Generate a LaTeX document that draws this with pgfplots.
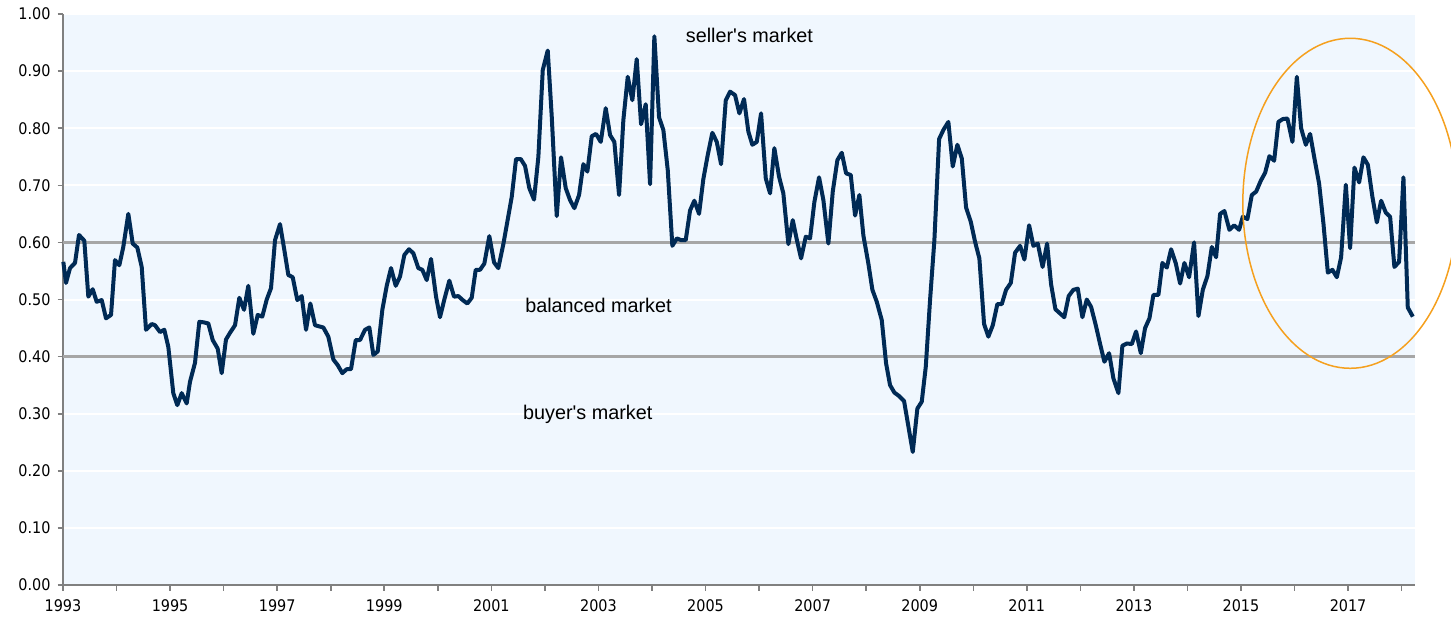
\documentclass[border=0pt]{standalone}
\usepackage{fontspec}
\setmainfont{Liberation Sans}
\newfontfamily\tickfont{DejaVu Sans Condensed}
\usepackage{pgfplots}
\pgfplotsset{compat=1.18}
\usepackage{pgfplotstable}
\definecolor{bgblue}{HTML}{F0F7FE}
\definecolor{navy}{HTML}{002A55}
\definecolor{refgray}{HTML}{A6A6A6}
\definecolor{axgray}{HTML}{808080}
\definecolor{ellorange}{HTML}{F5A01E}

\pgfplotstableread{
x y
1993.006 0.566
1993.056 0.529
1993.131 0.555
1993.224 0.564
1993.299 0.613
1993.398 0.603
1993.473 0.505
1993.555 0.518
1993.629 0.496
1993.723 0.499
1993.803 0.467
1993.897 0.473
1993.971 0.569
1994.052 0.560
1994.126 0.592
1994.220 0.650
1994.302 0.598
1994.388 0.591
1994.470 0.557
1994.550 0.447
1994.657 0.457
1994.718 0.455
1994.812 0.443
1994.892 0.447
1994.967 0.417
1995.060 0.336
1995.135 0.315
1995.217 0.336
1995.310 0.318
1995.372 0.356
1995.465 0.389
1995.546 0.461
1995.630 0.460
1995.714 0.458
1995.796 0.429
1995.889 0.414
1995.964 0.371
1996.044 0.430
1996.128 0.443
1996.213 0.455
1996.293 0.503
1996.381 0.482
1996.461 0.524
1996.554 0.440
1996.637 0.473
1996.722 0.470
1996.805 0.500
1996.885 0.520
1996.960 0.604
1997.053 0.632
1997.133 0.587
1997.208 0.543
1997.290 0.539
1997.376 0.499
1997.458 0.506
1997.539 0.447
1997.619 0.493
1997.707 0.455
1997.781 0.453
1997.862 0.451
1997.955 0.435
1998.049 0.395
1998.131 0.385
1998.217 0.371
1998.299 0.378
1998.379 0.378
1998.467 0.429
1998.547 0.429
1998.641 0.447
1998.721 0.451
1998.796 0.403
1998.878 0.409
1998.964 0.482
1999.046 0.524
1999.126 0.555
1999.214 0.524
1999.294 0.540
1999.375 0.578
1999.462 0.588
1999.543 0.581
1999.636 0.555
1999.711 0.552
1999.793 0.534
1999.873 0.571
1999.967 0.505
2000.041 0.469
2000.122 0.500
2000.215 0.533
2000.303 0.505
2000.383 0.506
2000.465 0.499
2000.551 0.493
2000.633 0.503
2000.708 0.552
2000.789 0.552
2000.869 0.563
2000.962 0.611
2001.050 0.565
2001.130 0.555
2001.224 0.597
2001.298 0.636
2001.381 0.680
2001.461 0.746
2001.549 0.746
2001.629 0.734
2001.709 0.695
2001.797 0.675
2001.878 0.750
2001.960 0.902
2002.053 0.936
2002.128 0.820
2002.221 0.646
2002.301 0.749
2002.389 0.695
2002.470 0.674
2002.550 0.660
2002.638 0.683
2002.718 0.737
2002.793 0.724
2002.875 0.786
2002.955 0.790
2003.043 0.776
2003.136 0.835
2003.217 0.788
2003.297 0.776
2003.385 0.683
2003.465 0.814
2003.547 0.890
2003.633 0.849
2003.715 0.921
2003.796 0.807
2003.883 0.842
2003.964 0.702
2004.044 0.961
2004.132 0.819
2004.212 0.797
2004.294 0.727
2004.380 0.594
2004.463 0.607
2004.543 0.604
2004.630 0.604
2004.711 0.656
2004.791 0.673
2004.879 0.650
2004.959 0.711
2005.041 0.753
2005.127 0.792
2005.210 0.776
2005.290 0.737
2005.378 0.849
2005.458 0.864
2005.551 0.858
2005.632 0.826
2005.719 0.851
2005.800 0.794
2005.874 0.771
2005.957 0.776
2006.037 0.826
2006.125 0.712
2006.205 0.686
2006.285 0.765
2006.373 0.715
2006.453 0.686
2006.547 0.597
2006.629 0.639
2006.704 0.605
2006.784 0.572
2006.872 0.610
2006.952 0.607
2007.033 0.671
2007.120 0.714
2007.201 0.674
2007.294 0.598
2007.376 0.689
2007.462 0.744
2007.544 0.757
2007.625 0.721
2007.712 0.718
2007.793 0.647
2007.873 0.683
2007.948 0.612
2008.041 0.563
2008.116 0.517
2008.198 0.496
2008.291 0.464
2008.372 0.388
2008.446 0.350
2008.527 0.337
2008.614 0.331
2008.708 0.322
2008.788 0.278
2008.870 0.233
2008.956 0.309
2009.038 0.321
2009.113 0.382
2009.193 0.499
2009.274 0.604
2009.362 0.781
2009.442 0.797
2009.535 0.811
2009.617 0.733
2009.703 0.771
2009.786 0.747
2009.866 0.661
2009.954 0.636
2010.034 0.601
2010.114 0.572
2010.202 0.457
2010.282 0.435
2010.365 0.455
2010.450 0.492
2010.533 0.492
2010.613 0.517
2010.701 0.529
2010.781 0.582
2010.875 0.594
2010.955 0.570
2011.043 0.630
2011.123 0.594
2011.205 0.598
2011.295 0.557
2011.379 0.598
2011.453 0.527
2011.534 0.483
2011.616 0.476
2011.700 0.469
2011.782 0.506
2011.870 0.517
2011.952 0.519
2012.038 0.469
2012.120 0.500
2012.201 0.487
2012.288 0.455
2012.369 0.422
2012.449 0.391
2012.537 0.406
2012.617 0.362
2012.711 0.336
2012.785 0.419
2012.868 0.423
2012.961 0.422
2013.041 0.444
2013.129 0.406
2013.209 0.450
2013.290 0.467
2013.364 0.508
2013.458 0.508
2013.532 0.564
2013.615 0.556
2013.695 0.588
2013.783 0.563
2013.863 0.528
2013.943 0.564
2014.031 0.539
2014.124 0.600
2014.205 0.471
2014.287 0.517
2014.373 0.541
2014.455 0.592
2014.535 0.574
2014.610 0.650
2014.690 0.655
2014.784 0.622
2014.871 0.630
2014.965 0.622
2015.034 0.645
2015.120 0.641
2015.202 0.683
2015.283 0.689
2015.370 0.708
2015.451 0.722
2015.531 0.751
2015.619 0.743
2015.699 0.811
2015.781 0.816
2015.867 0.817
2015.961 0.776
2016.043 0.890
2016.123 0.800
2016.211 0.771
2016.291 0.790
2016.372 0.747
2016.459 0.703
2016.540 0.633
2016.622 0.547
2016.708 0.552
2016.790 0.539
2016.870 0.574
2016.958 0.701
2017.038 0.590
2017.119 0.731
2017.206 0.705
2017.287 0.749
2017.369 0.736
2017.454 0.680
2017.537 0.635
2017.617 0.673
2017.705 0.652
2017.785 0.645
2017.865 0.557
2017.953 0.566
2018.034 0.714
2018.115 0.486
2018.209 0.470
}\ratio

\begin{document}
\begin{tikzpicture}
\useasboundingbox (-31.5pt,-16.5pt) rectangle (694pt,292.5pt);
\begin{axis}[
  at={(0,0)}, anchor=south west,
  width=676pt, height=285.5pt, scale only axis,
  xmin=1993, xmax=2018.25, ymin=0, ymax=1,
  clip=false,
  axis background/.style={fill=bgblue},
  axis x line*=bottom, axis y line*=left,
  axis line style={axgray, line width=0.9pt},
  tick align=outside,
  tick style={axgray, line width=0.8pt},
  major tick length=2.75pt, minor tick length=2.75pt,
  xtick={1993,1995,...,2017},
  minor xtick={1994,1996,...,2018},
  ytick={0,0.1,0.2,0.3,0.4,0.5,0.6,0.7,0.8,0.9,1},
  ymajorgrids,
  major grid style={white, line width=1pt},
  /pgf/number format/assume math mode=true,
  tick label style={font=\tickfont\fontsize{8}{10}\selectfont, black},
  x tick label style={/pgf/number format/1000 sep={}, yshift=-0.8pt},
  y tick label style={/pgf/number format/.cd, fixed, fixed zerofill, precision=2},
]
\addplot[refgray, line width=1.5pt, forget plot] coordinates {(1993,0.6) (2018.25,0.6)};
\addplot[refgray, line width=1.5pt, forget plot] coordinates {(1993,0.4) (2018.25,0.4)};
\addplot[navy, line width=2pt, line join=round, no marks] table[x=x, y=y] {\ratio};
\node[font=\fontsize{9.9}{12}\selectfont] at (axis cs:2005.82,0.963) {seller\textquotesingle s market};
\node[font=\fontsize{9.9}{12}\selectfont] at (axis cs:2003.0,0.489) {balanced market};
\node[font=\fontsize{9.9}{12}\selectfont] at (axis cs:2002.8,0.298) {buyer\textquotesingle s market};
\draw[ellorange, line width=0.75pt] (axis cs:2017.04,0.6685) ellipse [x radius=53.7pt, y radius=82.5pt];
\end{axis}
\end{tikzpicture}
\end{document}
